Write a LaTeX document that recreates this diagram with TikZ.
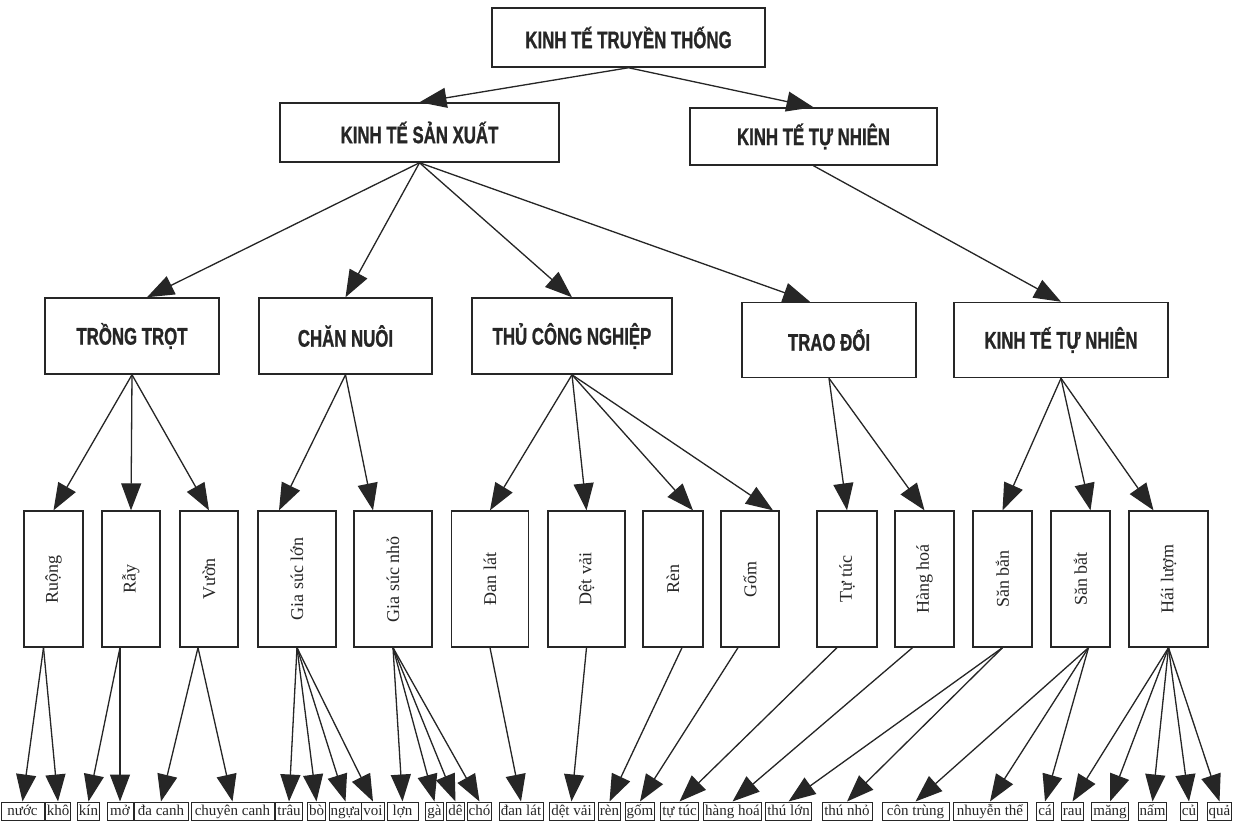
\documentclass[tikz,border=0pt]{standalone}
\usepackage{fontspec}
\usepackage{graphicx}
\setmainfont{Liberation Serif}
\newfontface\headfont[FakeStretch=0.7,FakeBold=1]{Liberation Sans Bold}
\usetikzlibrary{arrows.meta}

\begin{document}
\begin{tikzpicture}[x=1pt,y=-1pt]
        % Define styles
        \tikzset{
            head/.style={rectangle, draw=black!85, line width=1.5pt, text=black!85, font=\headfont\fontsize{24}{26}\selectfont},
            branch/.style={rectangle, draw=black!85, line width=1.3pt, minimum height=136pt, text=black!85, font=\fontsize{18}{20}\selectfont},
            leaf/.style={rectangle, draw=black!85, line width=1pt, inner xsep=1.5pt, inner ysep=1.5pt, text height=11.5pt, text depth=3.5pt, text=black!85, font=\fontsize{15}{17}\selectfont},
            arrow/.style={->, >={Triangle[length=27pt,width=20pt]}, line width=1.3pt, draw=black!85, fill=black!85}
        }
        \path[use as bounding box, fill=white] (0,0) rectangle (1233,830);

        % Heads
        \node[head, minimum width=273pt, minimum height=59pt] (head_node_0) at (628.5,37.5) {KINH TẾ TRUYỀN THỐNG};
        \node[head, minimum width=279pt, minimum height=59pt] (head_node_1) at (419.5,132.5) {KINH TẾ SẢN XUẤT};
        \node[head, minimum width=247pt, minimum height=57pt] (head_node_2) at (813.5,136.5) {KINH TẾ TỰ NHIÊN};

        \node[head, minimum width=174pt, minimum height=76pt] (trongtrot_node) at (132,336) {TRỒNG TRỌT};
        \node[head, minimum width=173pt, minimum height=76pt] (channuoi_node) at (345.5,336) {CHĂN NUÔI};
        \node[head, minimum width=200pt, minimum height=76pt] (thucong_node) at (572,336) {THỦ CÔNG NGHIỆP};
        \node[head, minimum width=174pt, minimum height=75pt] (traodoi_node) at (829,340) {TRAO ĐỔI};
        \node[head, minimum width=214pt, minimum height=75pt] (tunhien_node) at (1061,340) {KINH TẾ TỰ NHIÊN};

        % Branches
        \node[branch, minimum width=59pt] (ruong_node) at (53.5,579) {\rotatebox{90}{Ruộng}};
        \node[branch, minimum width=58pt] (ray_node) at (131,579) {\rotatebox{90}{Rẫy}};
        \node[branch, minimum width=58pt] (vuon_node) at (209,579) {\rotatebox{90}{Vườn}};
        \node[branch, minimum width=78pt] (gsl_node) at (297,579) {\rotatebox{90}{Gia súc lớn}};
        \node[branch, minimum width=78pt] (gsn_node) at (393,579) {\rotatebox{90}{Gia súc nhỏ}};
        \node[branch, minimum width=77pt] (danlat_node) at (490,579) {\rotatebox{90}{Đan lát}};
        \node[branch, minimum width=77pt] (detvai_node) at (586.5,579) {\rotatebox{90}{Dệt vải}};
        \node[branch, minimum width=60pt] (ren_node) at (673,579) {\rotatebox{90}{Rèn}};
        \node[branch, minimum width=58pt] (gom_node) at (750,579) {\rotatebox{90}{Gốm}};
        \node[branch, minimum width=60pt] (tutuc_node) at (847,579) {\rotatebox{90}{Tự túc}};
        \node[branch, minimum width=59pt] (hanghoa_node) at (924.5,579) {\rotatebox{90}{Hàng hoá}};
        \node[branch, minimum width=59pt] (sanban_node) at (1002.5,579) {\rotatebox{90}{Săn bắn}};
        \node[branch, minimum width=59pt] (sanbat_node) at (1080.5,579) {\rotatebox{90}{Săn bắt}};
        \node[branch, minimum width=79pt] (hailuom_node) at (1168.5,579) {\rotatebox{90}{Hái lượm}};

        % Leaves
        \node[leaf, minimum width=43pt] (nuoc_leaf) at (22.5,811) {nước};
        \node[leaf, minimum width=20pt] (kho_leaf) at (58,811) {khô};
        \node[leaf, minimum width=21pt] (kin_leaf) at (88.5,811) {kín};
        \node[leaf, minimum width=26pt] (mo_leaf) at (120,811) {mở};
        \node[leaf, minimum width=54pt] (dacanh_leaf) at (161,811) {đa canh};
        \node[leaf, minimum width=83pt] (chuyencanh_leaf) at (232.5,811) {chuyên canh};
        \node[leaf] (trau_leaf) at (289,811) {trâu};
        \node[leaf] (bo_leaf) at (316.5,811) {bò};
        \node[leaf] (ngua_leaf) at (345.5,811) {ngựa};
        \node[leaf] (voi_leaf) at (373,811) {voi};
        \node[leaf, minimum width=31pt] (lon_leaf) at (402.5,811) {lợn};
        \node[leaf, minimum width=17pt] (ga_leaf) at (434.5,811) {gà};
        \node[leaf] (de_leaf) at (455.5,811) {dê};
        \node[leaf] (cho_leaf) at (479.5,811) {chó};
        \node[leaf, minimum width=44pt] (danlat_leaf) at (521,811) {đan lát};
        \node[leaf, minimum width=45pt] (detvai_leaf) at (571.5,811) {dệt vải};
        \node[leaf, minimum width=21pt] (ren_leaf) at (609.5,811) {rèn};
        \node[leaf, minimum width=26pt] (gom_leaf) at (640,811) {gốm};
        \node[leaf, minimum width=35pt] (tutuc_leaf) at (679.5,811) {tự túc};
        \node[leaf, minimum width=55pt] (hanghoa_leaf) at (732.5,811) {hàng hoá};
        \node[leaf, minimum width=43pt] (thulon_leaf) at (788.5,811) {thú lớn};
        \node[leaf, minimum width=50pt] (thunho_leaf) at (847,811) {thú nhỏ};
        \node[leaf, minimum width=67pt] (controng_leaf) at (915.5,811) {côn trùng};
        \node[leaf, minimum width=74pt] (nhuyenthe_leaf) at (990,811) {nhuyễn thể};
        \node[leaf, minimum width=16pt] (ca_leaf) at (1045,811) {cá};
        \node[leaf, minimum width=21pt] (rau_leaf) at (1072.5,811) {rau};
        \node[leaf, minimum width=30pt] (mang_leaf) at (1110,811) {măng};
        \node[leaf, minimum width=23pt] (nam_leaf) at (1152.5,811) {nấm};
        \node[leaf, minimum width=16pt] (cu_leaf) at (1189,811) {củ};
        \node[leaf, minimum width=23pt] (qua_leaf) at (1219.5,811) {quả};

        % Arrows
        \draw[arrow] (head_node_0.south) -- (head_node_1.north);
        \draw[arrow] (head_node_0.south) -- (head_node_2.north);
        \draw[arrow] (head_node_1.south) -- ([xshift=15pt]trongtrot_node.north);
        \draw[arrow] (head_node_1.south) -- (channuoi_node.north);
        \draw[arrow] (head_node_1.south) -- (thucong_node.north);
        \draw[arrow] (head_node_1.south) -- ([xshift=-19pt]traodoi_node.north);
        \draw[arrow] (head_node_2.south) -- (tunhien_node.north);

        \draw[arrow] (trongtrot_node.south) -- (ruong_node.north);
        \draw[arrow] (trongtrot_node.south) -- (ray_node.north);
        \draw[arrow] (trongtrot_node.south) -- (vuon_node.north);
        \draw[arrow] (channuoi_node.south) -- ([xshift=-18pt]gsl_node.north);
        \draw[arrow] (channuoi_node.south) -- ([xshift=-20pt]gsn_node.north);
        \draw[arrow] (thucong_node.south) -- (danlat_node.north);
        \draw[arrow] (thucong_node.south) -- (detvai_node.north);
        \draw[arrow] (thucong_node.south) -- ([xshift=20pt]ren_node.north);
        \draw[arrow] (thucong_node.south) -- ([xshift=23pt]gom_node.north);
        \draw[arrow] (traodoi_node.south) -- (tutuc_node.north);
        \draw[arrow] (traodoi_node.south) -- (hanghoa_node.north);
        \draw[arrow] (tunhien_node.south) -- (sanban_node.north);
        \draw[arrow] (tunhien_node.south) -- ([xshift=10pt]sanbat_node.north);
        \draw[arrow] (tunhien_node.south) -- ([xshift=-15pt]hailuom_node.north);

        \draw[arrow] ([xshift=-10pt]ruong_node.south) -- (nuoc_leaf.north);
        \draw[arrow] ([xshift=-10pt]ruong_node.south) -- (kho_leaf.north);
        \draw[arrow] ([xshift=-11pt]ray_node.south) -- (kin_leaf.north);
        \draw[arrow] ([xshift=-11pt]ray_node.south) -- (mo_leaf.north);
        \draw[arrow] ([xshift=-11pt]vuon_node.south) -- (dacanh_leaf.north);
        \draw[arrow] ([xshift=-11pt]vuon_node.south) -- (chuyencanh_leaf.north);
        \draw[arrow] (gsl_node.south) -- (trau_leaf.north);
        \draw[arrow] (gsl_node.south) -- (bo_leaf.north);
        \draw[arrow] (gsl_node.south) -- (ngua_leaf.north);
        \draw[arrow] (gsl_node.south) -- (voi_leaf.north);
        \draw[arrow] (gsn_node.south) -- (lon_leaf.north);
        \draw[arrow] (gsn_node.south) -- (ga_leaf.north);
        \draw[arrow] (gsn_node.south) -- (de_leaf.north);
        \draw[arrow] (gsn_node.south) -- (cho_leaf.north);
        \draw[arrow] (danlat_node.south) -- (danlat_leaf.north);
        \draw[arrow] (detvai_node.south) -- (detvai_leaf.north);
        \draw[arrow] ([xshift=9pt]ren_node.south) -- (ren_leaf.north);
        \draw[arrow] ([xshift=-12pt]gom_node.south) -- (gom_leaf.north);
        \draw[arrow] ([xshift=-10pt]tutuc_node.south) -- (tutuc_leaf.north);
        \draw[arrow] ([xshift=-12pt]hanghoa_node.south) -- (hanghoa_leaf.north);
        \draw[arrow] (sanban_node.south) -- (thulon_leaf.north);
        \draw[arrow] (sanban_node.south) -- (thunho_leaf.north);
        \draw[arrow] ([xshift=8pt]sanbat_node.south) -- (controng_leaf.north);
        \draw[arrow] ([xshift=8pt]sanbat_node.south) -- (nhuyenthe_leaf.north);
        \draw[arrow] ([xshift=8pt]sanbat_node.south) -- (ca_leaf.north);
        \draw[arrow] (hailuom_node.south) -- (rau_leaf.north);
        \draw[arrow] (hailuom_node.south) -- (mang_leaf.north);
        \draw[arrow] (hailuom_node.south) -- (nam_leaf.north);
        \draw[arrow] (hailuom_node.south) -- (cu_leaf.north);
        \draw[arrow] (hailuom_node.south) -- (qua_leaf.north);
    \end{tikzpicture}
\end{document}
